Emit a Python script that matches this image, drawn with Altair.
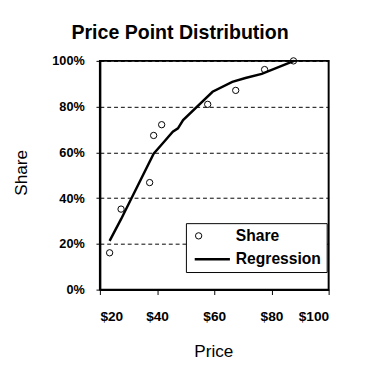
import altair as alt
import pandas as pd

# Observed share points
price = [23.4, 27.4, 37.4, 38.8, 41.6, 57.7, 67.5, 77.6, 87.7]
share = [0.161, 0.352, 0.468, 0.674, 0.721, 0.810, 0.871, 0.962, 1.000]

# Regression curve
reg_price = [23.4, 27.4, 38.8, 42.3, 45.5, 47.3, 49.1, 59.4, 66.3, 70.9, 76.6, 87.9]
reg_share = [0.213, 0.308, 0.594, 0.644, 0.690, 0.705, 0.741, 0.865, 0.908, 0.925, 0.943, 1.000]

series_names = ["Share", "Regression"]
x_ticks = [20, 40, 60, 80, 100]
y_ticks = [0, 0.2, 0.4, 0.6, 0.8, 1.0]

pts = pd.DataFrame({"price": price, "share": share, "series": "Share"})
reg = pd.DataFrame({"price": reg_price, "share": reg_share, "series": "Regression"})

FONT = "Liberation Sans"

x_enc = alt.X("price:Q", scale=alt.Scale(domain=[20, 100], nice=False, zero=False),
              axis=alt.Axis(values=x_ticks, format="$.0f", title="Price", grid=False,
                            tickSize=5, labelPadding=27, labelBaseline="alphabetic",
                            labelFontSize=14,
                            titleX=116, titleY=68, titleBaseline="alphabetic",
                            titleAnchor="middle"))
y_enc = alt.Y("share:Q", scale=alt.Scale(domain=[0, 1], nice=False),
              axis=alt.Axis(values=y_ticks, format=".0%", title="Share", grid=True,
                            tickSize=4, labelPadding=12,
                            titleAngle=270, titleX=-75, titleY=114,
                            titleBaseline="alphabetic", titleAlign="center"))

# legend line symbol: custom path so the stroke is long but the row stays short
stroke_path = "M-1,0H8"

leg = alt.Legend(title=None, orient="none", legendX=88, legendY=166,
                 strokeColor="black", fillColor="white", padding=5,
                 labelFont=FONT, labelFontSize=16, labelFontWeight="bold",
                 labelColor="black", labelOffset=30, rowPadding=8,
                 symbolFillColor="transparent", symbolStrokeColor="black")

points = alt.Chart(pts).mark_point(filled=False, color="black", opacity=1).encode(
    x=x_enc,
    y=y_enc,
    shape=alt.Shape("series:N", scale=alt.Scale(domain=series_names, range=["circle", stroke_path]), legend=leg),
    size=alt.Size("series:N", scale=alt.Scale(domain=series_names, range=[42, 64]), legend=leg),
    strokeWidth=alt.StrokeWidth("series:N", scale=alt.Scale(domain=series_names, range=[1, 2.5]), legend=leg),
)

line = alt.Chart(reg).mark_line(color="black", strokeWidth=2.5).encode(
    x="price:Q",
    y="share:Q",
)

chart = alt.layer(line, points).properties(
    width=234,
    height=234,
    background="white",
    autosize=alt.AutoSizeParams(type="none"),
    padding={"left": 94, "top": 50, "right": 29, "bottom": 73},
    title=alt.TitleParams("Price Point Distribution", font=FONT, fontSize=20,
                          fontWeight="bold", color="black", anchor="middle",
                          frame="group", dx=-35, dy=16, offset=12, baseline="alphabetic"),
).configure_view(
    stroke="black", strokeWidth=2
).configure_axis(
    labelFont=FONT, labelFontSize=13, labelFontWeight="bold", labelColor="black",
    titleFont=FONT, titleFontSize=17.5, titleFontWeight="normal", titleColor="black",
    domainColor="black", domainWidth=2, tickColor="black", tickWidth=1,
    gridColor="black", gridDash=[4, 3], gridWidth=1, gridOpacity=1
)

chart.save("out.html", embed_options={"renderer": "svg", "actions": False})
